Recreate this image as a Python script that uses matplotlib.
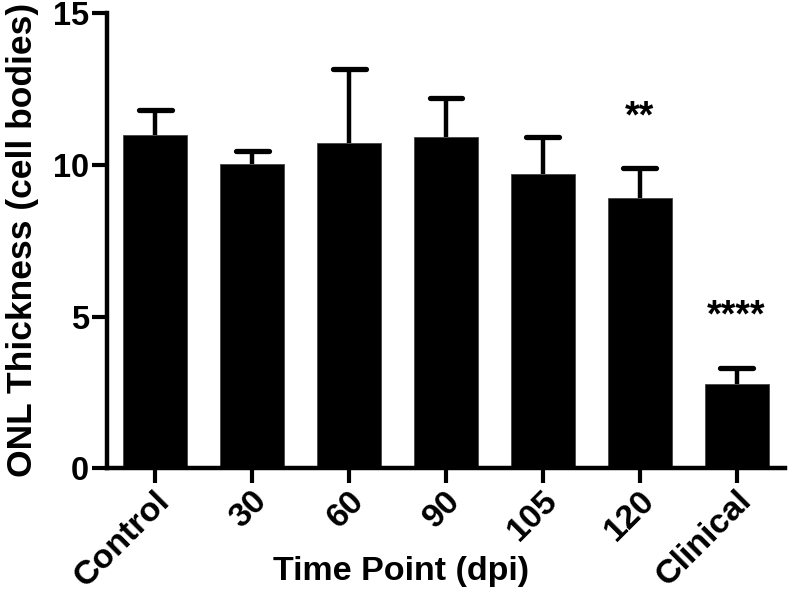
import matplotlib
matplotlib.use("Agg")
import matplotlib.pyplot as plt
import matplotlib.transforms as mtransforms
import numpy as np

categories = ["Control", "30", "60", "90", "105", "120", "Clinical"]
means = [11.0, 10.03, 10.74, 10.93, 9.69, 8.90, 2.78]
errors = [0.82, 0.43, 2.43, 1.27, 1.24, 1.01, 0.52]
stars = ["", "", "", "", "", "**", "****"]
star_y = [None, None, None, None, None, 11.55, 5.0]

plt.rcParams['font.family'] = ['Liberation Sans', 'DejaVu Sans']
plt.rcParams['font.weight'] = 'bold'

fig = plt.figure(figsize=(7.88, 5.94), dpi=100)
ax = fig.add_axes([0.1358, 0.2116, 0.8604, 0.766])

x = np.arange(len(categories))
ax.bar(x, means, width=0.66, color='black', edgecolor='#444444', linewidth=0.6, zorder=2)
for xi, m, e in zip(x, means, errors):
    ax.plot([xi, xi], [m, m + e], color='black', lw=3.2, solid_capstyle='butt', zorder=3)
    ax.plot([xi - 0.17, xi + 0.17], [m + e, m + e], color='black', lw=3.8,
            solid_capstyle='round', zorder=3)

for xi, s, sy in zip(x, stars, star_y):
    if s:
        ax.text(xi, sy, s, ha='center', va='center', fontsize=27, fontweight='bold')

ax.set_xlim(-0.5, 6.5)
ax.set_ylim(0, 15)
ax.set_yticks([0, 5, 10, 15])
ax.set_xticks(x)
ax.set_xticklabels(categories, rotation=45, ha='right', va='center', rotation_mode='anchor')
ax.tick_params(axis='both', width=3, length=11, labelsize=23.5)
ax.tick_params(axis='x', labelsize=24.5)
ax.tick_params(axis='y', pad=2)
ax.tick_params(axis='x', pad=4)
offset = mtransforms.ScaledTranslation(10 / 100, -7 / 100, fig.dpi_scale_trans)
for lab in ax.get_xticklabels():
    lab.set_fontweight('bold')
    lab.set_transform(lab.get_transform() + offset)
for lab in ax.get_yticklabels():
    lab.set_fontweight('bold')

for s in ['top', 'right']:
    ax.spines[s].set_visible(False)
for s in ['left', 'bottom']:
    ax.spines[s].set_linewidth(3.2)

ax.set_ylabel("ONL Thickness (cell bodies)", fontsize=25.5, fontweight='bold')
ax.yaxis.set_label_coords(-0.101, 0.502)
ax.set_xlabel("Time Point (dpi)", fontsize=24.5, fontweight='bold', va='top')
ax.xaxis.set_label_coords(0.434, -0.192)

fig.savefig("out.png", dpi=100)
